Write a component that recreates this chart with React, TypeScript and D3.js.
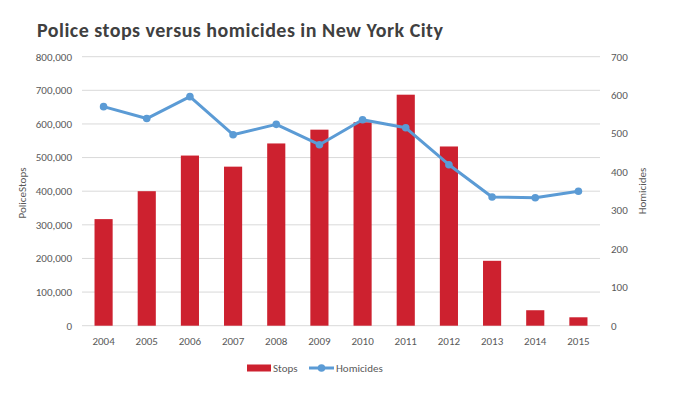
import * as d3 from "d3";

const years = ["2004", "2005", "2006", "2007", "2008", "2009", "2010", "2011", "2012", "2013", "2014", "2015"];
const stops = [317000, 400000, 506000, 473000, 542000, 583000, 605000, 687000, 533000, 193000, 46000, 25000];
const homicides = [570, 539, 596, 497, 524, 471, 536, 515, 419, 335, 333, 350];
const stopTicks = [0, 100000, 200000, 300000, 400000, 500000, 600000, 700000, 800000];
const homTicks = [0, 100, 200, 300, 400, 500, 600, 700];

const W = 680;
const H = 395;
const left = 82;
const right = 600;
const top = 56.7;
const bottom = 325.7;

const font = "Carlito, Lato, 'Liberation Sans', sans-serif";
const grey = "#595959";
const red = "#cd212f";
const blue = "#5b9bd5";

export default function App() {
  const x = d3.scaleBand().domain(years).range([left, right]).paddingInner(0.58).paddingOuter(0.29);
  const yL = d3.scaleLinear().domain([0, 800000]).range([bottom, top]);
  const yR = d3.scaleLinear().domain([0, 700]).range([bottom, top]);
  const fmt = d3.format(",");
  const cx = (d: string) => (x(d) ?? 0) + x.bandwidth() / 2;

  const line = d3
    .line<number>()
    .x((_, i) => cx(years[i]))
    .y((d) => yR(d));

  return (
    <svg width={W} height={H} style={{ position: "absolute", left: 0, top: 0, background: "#fff" }} fontFamily={font}>
      <text x={37} y={37} fontSize={20} fontWeight="bold" fill="#404040" textLength={406} lengthAdjust="spacing">
        Police stops versus homicides in New York City
      </text>

      {stopTicks.map((t) => (
        <g key={t}>
          <line x1={left} x2={right} y1={yL(t)} y2={yL(t)} stroke="#d9d9d9" strokeWidth={1} />
          <text x={72} y={yL(t)} dy="0.35em" textAnchor="end" fontSize={11} fill={grey}>
            {fmt(t)}
          </text>
        </g>
      ))}
      {homTicks.map((t) => (
        <text key={t} x={611} y={yR(t)} dy="0.35em" textAnchor="start" fontSize={11} fill={grey}>
          {t}
        </text>
      ))}

      <text transform="translate(22,193) rotate(-90)" dy="0.35em" textAnchor="middle" fontSize={11} fill={grey}>
        PoliceStops
      </text>
      <text transform="translate(642,191) rotate(-90)" dy="0.35em" textAnchor="middle" fontSize={11} fill={grey}>
        Homicides
      </text>

      {years.map((y, i) => (
        <rect key={y} x={x(y)} y={yL(stops[i])} width={x.bandwidth()} height={bottom - yL(stops[i])} fill={red} />
      ))}

      <path d={line(homicides) ?? ""} fill="none" stroke={blue} strokeWidth={3} strokeLinejoin="round" />
      {homicides.map((h, i) => (
        <circle key={years[i]} cx={cx(years[i])} cy={yR(h)} r={3.8} fill={blue} />
      ))}

      {years.map((y) => (
        <text key={y} x={cx(y)} y={341} dy="0.35em" textAnchor="middle" fontSize={11} fill={grey}>
          {y}
        </text>
      ))}

      <rect x={247} y={364.5} width={24} height={7} fill={red} />
      <text x={273} y={368} dy="0.35em" fontSize={11} fill={grey}>
        Stops
      </text>
      <line x1={309} x2={334} y1={368} y2={368} stroke={blue} strokeWidth={3} />
      <circle cx={321.5} cy={368} r={3.8} fill={blue} />
      <text x={336} y={368} dy="0.35em" fontSize={11} fill={grey}>
        Homicides
      </text>
    </svg>
  );
}
